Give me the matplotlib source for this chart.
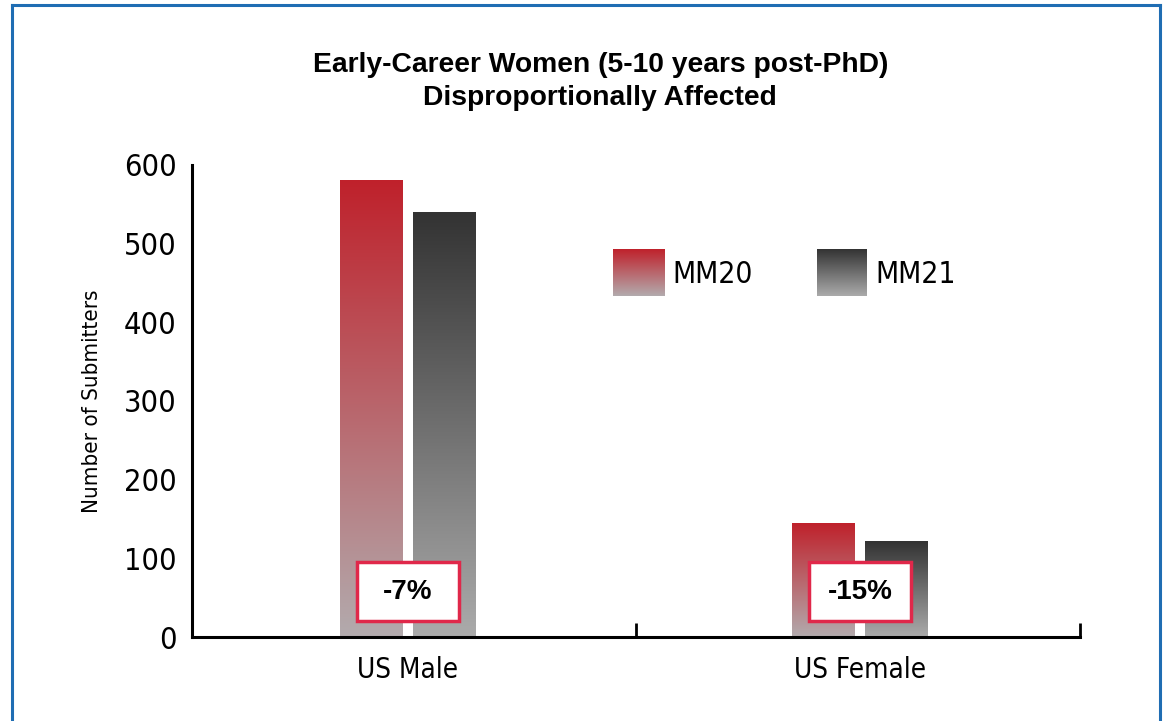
import numpy as np
import matplotlib
matplotlib.use('Agg')
from matplotlib import pyplot as plt
from matplotlib import font_manager
from matplotlib.lines import Line2D
from matplotlib.patches import Rectangle

# data
categories = ['US Male', 'US Female']
series = ['MM20', 'MM21']
mm20 = [580, 144]
mm21 = [540, 122]
yticks = [0, 100, 200, 300, 400, 500, 600]

# gradient colours (top, bottom)
grad_colors = {
    'MM20': ((0.75, 0.13, 0.17), (0.70, 0.67, 0.68)),
    'MM21': ((0.20, 0.20, 0.20), (0.67, 0.67, 0.67)),
}

# look for any condensed face, otherwise fall back to Liberation Sans
cands = [f for f in font_manager.fontManager.ttflist
         if (f.stretch in ('condensed', 'semi-condensed', 'extra-condensed')
             or 'Narrow' in f.name or 'Condensed' in f.name)
         and f.style == 'normal' and f.weight in (400, 'normal', 'regular')]
if cands:
    cond = font_manager.FontProperties(fname=cands[0].fname)
else:
    cond = font_manager.FontProperties(family='Liberation Sans')


def fp(size):
    p = cond.copy()
    p.set_size(size)
    return p


def gradient(top, bottom, n=256):
    t = np.linspace(0, 1, n)[:, None]
    top = np.array(top)
    bottom = np.array(bottom)
    return (top[None, :] * (1 - t) + bottom[None, :] * t).reshape(n, 1, 3)


fig = plt.figure(figsize=(11.68, 7.21), dpi=100)
ax = fig.add_axes([0.1644, 0.1165, 0.7603, 0.6547])

x = np.arange(len(categories))
w = 0.139
off = 0.081
for vals, name, sign in [(mm20, 'MM20', -1), (mm21, 'MM21', 1)]:
    bars = ax.bar(x + sign * off, vals, width=w, color='none', edgecolor='none')
    for b in bars:
        ax.imshow(gradient(*grad_colors[name]), aspect='auto', zorder=2,
                  extent=[b.get_x(), b.get_x() + b.get_width(), 0, b.get_height()])

# percentage change boxes
for i in range(len(categories)):
    pct = round((mm21[i] - mm20[i]) / mm20[i] * 100)
    ax.add_patch(Rectangle((x[i] - 0.113, 20), 0.226, 75, facecolor='white',
                           edgecolor='#e0284a', linewidth=2.5, zorder=4))
    ax.text(x[i], 57, f'{pct}%', ha='center', va='center', fontsize=20,
            fontweight='bold', family='Liberation Sans', zorder=5)

# legend swatches
sw = [('MM20', 0.474, 0.5315, 0.5405), ('MM21', 0.704, 0.760, 0.769)]
for name, x0, x1, tx in sw:
    ax.imshow(gradient(*grad_colors[name]), aspect='auto', transform=ax.transAxes,
              extent=[x0, x1, 0.7225, 0.820], zorder=2)
    ax.text(tx, 0.767, name, transform=ax.transAxes, ha='left', va='center',
            fontproperties=fp(21.5))

ax.set_xlim(-0.478, 1.487)
ax.set_ylim(0, 600)
ax.set_yticks(yticks)
ax.set_xticks(x)
ax.set_xticklabels(categories)
ax.set_xticks([0.504, 1.487], minor=True)
ax.tick_params(axis='y', length=0, pad=11)
ax.tick_params(axis='x', which='major', length=0, pad=14)
ax.tick_params(axis='x', which='minor', direction='in', length=10, width=2, color='black')
for lab in ax.get_yticklabels():
    lab.set_fontproperties(fp(22))
for lab in ax.get_xticklabels():
    lab.set_fontproperties(fp(20))
ax.set_ylabel('Number of Submitters', fontproperties=fp(16), labelpad=16)

for s in ['top', 'right']:
    ax.spines[s].set_visible(False)
ax.spines['left'].set_linewidth(2.2)
ax.spines['bottom'].set_linewidth(2.2)

fig.text(0.514, 0.887, 'Early-Career Women (5-10 years post-PhD)\nDisproportionally Affected',
         ha='center', va='center', fontsize=20.3, fontweight='bold',
         family='Liberation Sans', linespacing=1.35)

# blue frame
bx0, bx1, by = 12 / 1168, 1160 / 1168, 1 - 5 / 721
for xs, ys in [([bx0, bx0], [0, by]), ([bx0, bx1], [by, by]), ([bx1, bx1], [by, 0])]:
    fig.add_artist(Line2D(xs, ys, transform=fig.transFigure, color='#1f6db3', linewidth=2.2))

fig.savefig('out.png', dpi=100)
